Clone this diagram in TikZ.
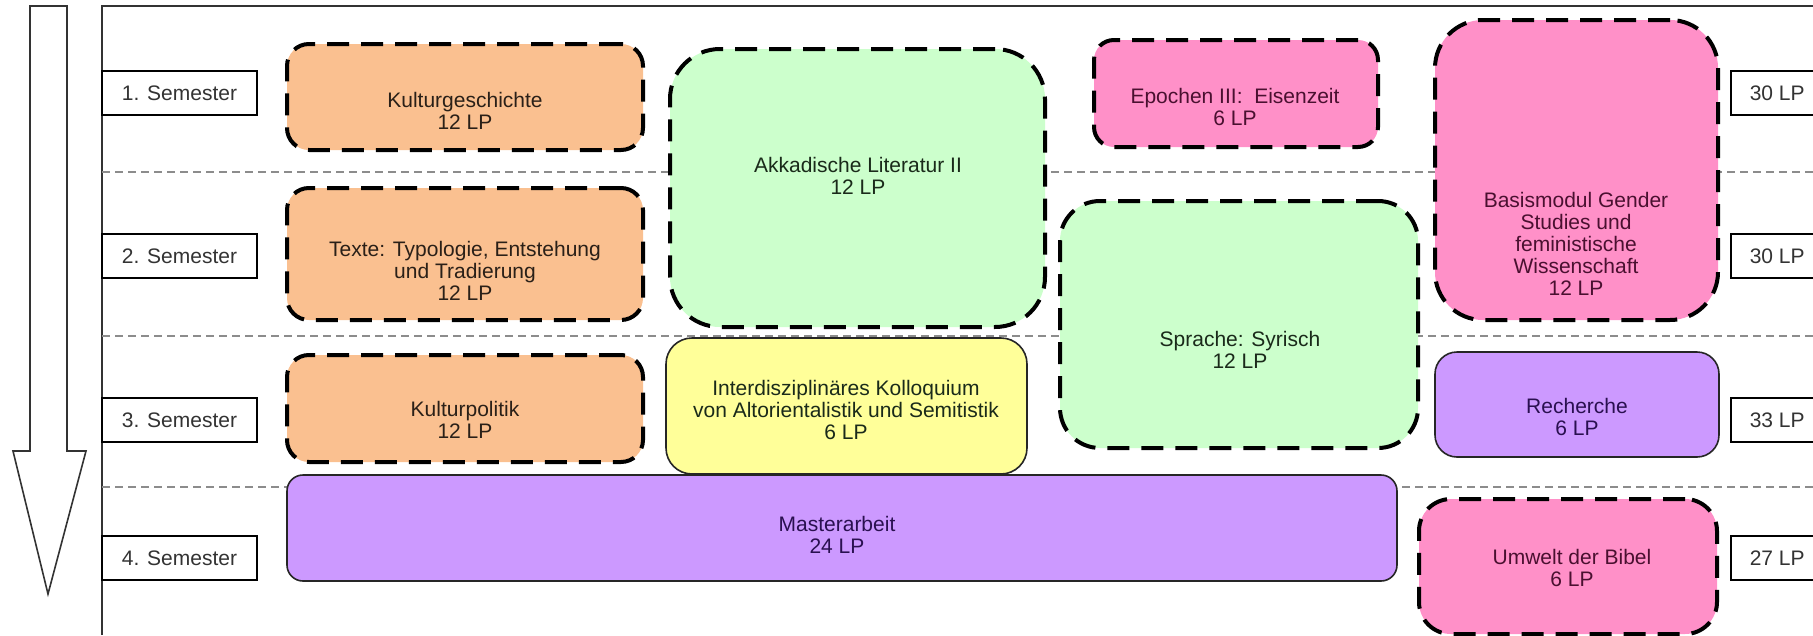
\documentclass[tikz,border=0pt]{standalone}
\usepackage{fontspec}
\setmainfont{Liberation Sans}
\definecolor{orangeF}{HTML}{FAC090}
\definecolor{greenF}{HTML}{CCFFCC}
\definecolor{yellowF}{HTML}{FFFF99}
\definecolor{pinkF}{HTML}{FF90C8}
\definecolor{purpleF}{HTML}{CC99FF}
\definecolor{frameC}{HTML}{333333}
\definecolor{sepC}{HTML}{8C8C8C}
\definecolor{pinkT}{HTML}{4A1030}
\definecolor{purpleT}{HTML}{2A1050}
\definecolor{greenT}{HTML}{1A2A1A}
\definecolor{orangeT}{HTML}{2A2018}
\begin{document}
\begin{tikzpicture}[x=1pt,y=-1pt,
  every node/.style={font=\fontsize{21}{22}\selectfont},
  sep/.style={draw=sepC, line width=1.3pt, dash pattern=on 8pt off 5pt},
  labbox/.style={draw=black, line width=1.6pt, fill=white, minimum width=155pt, minimum height=44pt, inner sep=0pt, text=frameC},
  lpbox/.style={draw=black, line width=1.6pt, fill=white, minimum height=44pt, anchor=west, inner xsep=19pt, inner ysep=0pt, text=frameC},
  dmod/.style={draw=black, line width=4pt, dash pattern=on 22pt off 12pt, inner sep=0pt},
  smod/.style={draw=black!85, line width=1.6pt, inner sep=0pt},
  txt/.style={align=center, inner sep=0pt}
]
\useasboundingbox (0,0) rectangle (1813,635);
\fill[white] (0,0) rectangle (1813,635);

% time arrow
\draw[draw=frameC, line width=1.6pt, fill=white, line join=miter]
  (30,6) -- (67,6) -- (67,451) -- (86,451) -- (48,594) -- (13,451) -- (30,451) -- cycle;

% frame
\draw[frameC, line width=2pt] (102,635) -- (102,6) -- (1813,6);

% semester separators
\coordinate (l1) at (102,172); \coordinate (r1) at (1813,172);
\coordinate (l2) at (102,336); \coordinate (r2) at (1813,336);
\coordinate (l3) at (102,487); \coordinate (r3) at (1813,487);
\draw[sep] (l1) -- (r1);
\draw[sep] (l2) -- (r2);
\draw[sep] (l3) -- (r3);

% semester labels
\node[labbox] (s1) at (179.5,93) {1. Semester\hspace{5pt}};
\node[labbox] (s2) at (179.5,256) {2. Semester\hspace{5pt}};
\node[labbox] (s3) at (179.5,420) {3. Semester\hspace{5pt}};
\node[labbox] (s4) at (179.5,558) {4. Semester\hspace{5pt}};

% LP labels
\node[lpbox] (p1) at (1730,93) {30 LP};
\node[lpbox] (p2) at (1730,256) {30 LP};
\node[lpbox] (p3) at (1730,420) {33 LP};
\node[lpbox] (p4) at (1730,558) {27 LP};

% modules
\node[dmod, fill=orangeF, minimum width=356pt, minimum height=106pt, rounded corners=22pt] (kg) at (465,97) {};
\node[txt, text=orangeT] (kgt) at (465,111) {Kulturgeschichte\\12 LP};

\node[dmod, fill=orangeF, minimum width=356pt, minimum height=132pt, rounded corners=22pt] (tx) at (465,254) {};
\node[txt, text=orangeT] (txt) at (465,271) {Texte: Typologie, Entstehung\\und Tradierung\\12 LP};

\node[dmod, fill=orangeF, minimum width=356pt, minimum height=107pt, rounded corners=22pt] (kp) at (465,408.5) {};
\node[txt, text=orangeT] (kpt) at (465,420) {Kulturpolitik\\12 LP};

\node[smod, fill=purpleF, minimum width=1110pt, minimum height=106pt, rounded corners=16pt] (ma) at (842,528) {};
\node[txt, text=purpleT] (mat) at (837,535) {Masterarbeit\\24 LP};

\node[dmod, fill=greenF, minimum width=375pt, minimum height=278pt, rounded corners=50pt] (ak) at (857.5,188) {};
\node[txt, text=greenT] (akt) at (858,176) {Akkadische Literatur II\\12 LP};

\node[smod, fill=yellowF, minimum width=361pt, minimum height=136pt, rounded corners=26pt] (ik) at (846.5,406) {};
\node[txt, text=greenT] (ikt) at (846,410) {Interdisziplinäres Kolloquium\\von Altorientalistik und Semitistik\\6 LP};

\node[dmod, fill=pinkF, minimum width=284pt, minimum height=107pt, rounded corners=20pt] (ep) at (1236,93.5) {};
\node[txt, text=pinkT] (ept) at (1235,107) {Epochen III:\ \ Eisenzeit\\6 LP};

\node[dmod, fill=greenF, minimum width=358pt, minimum height=247pt, rounded corners=40pt] (sy) at (1239,324.5) {};
\node[txt, text=greenT] (syt) at (1240,350) {Sprache: Syrisch\\12 LP};

\node[dmod, fill=pinkF, minimum width=283pt, minimum height=300pt, rounded corners=48pt] (bm) at (1576.5,170) {};
\node[txt, text=pinkT] (bmt) at (1576,244) {Basismodul Gender\\Studies und\\feministische\\Wissenschaft\\12 LP};

\node[smod, fill=purpleF, minimum width=284pt, minimum height=105pt, rounded corners=22pt] (re) at (1577,404.5) {};
\node[txt, text=purpleT] (ret) at (1577,417) {Recherche\\6 LP};

\node[dmod, fill=pinkF, minimum width=298pt, minimum height=135pt, rounded corners=32pt] (uw) at (1568,566.5) {};
\node[txt, text=pinkT] (uwt) at (1572,568) {Umwelt der Bibel\\6 LP};
\end{tikzpicture}
\end{document}
